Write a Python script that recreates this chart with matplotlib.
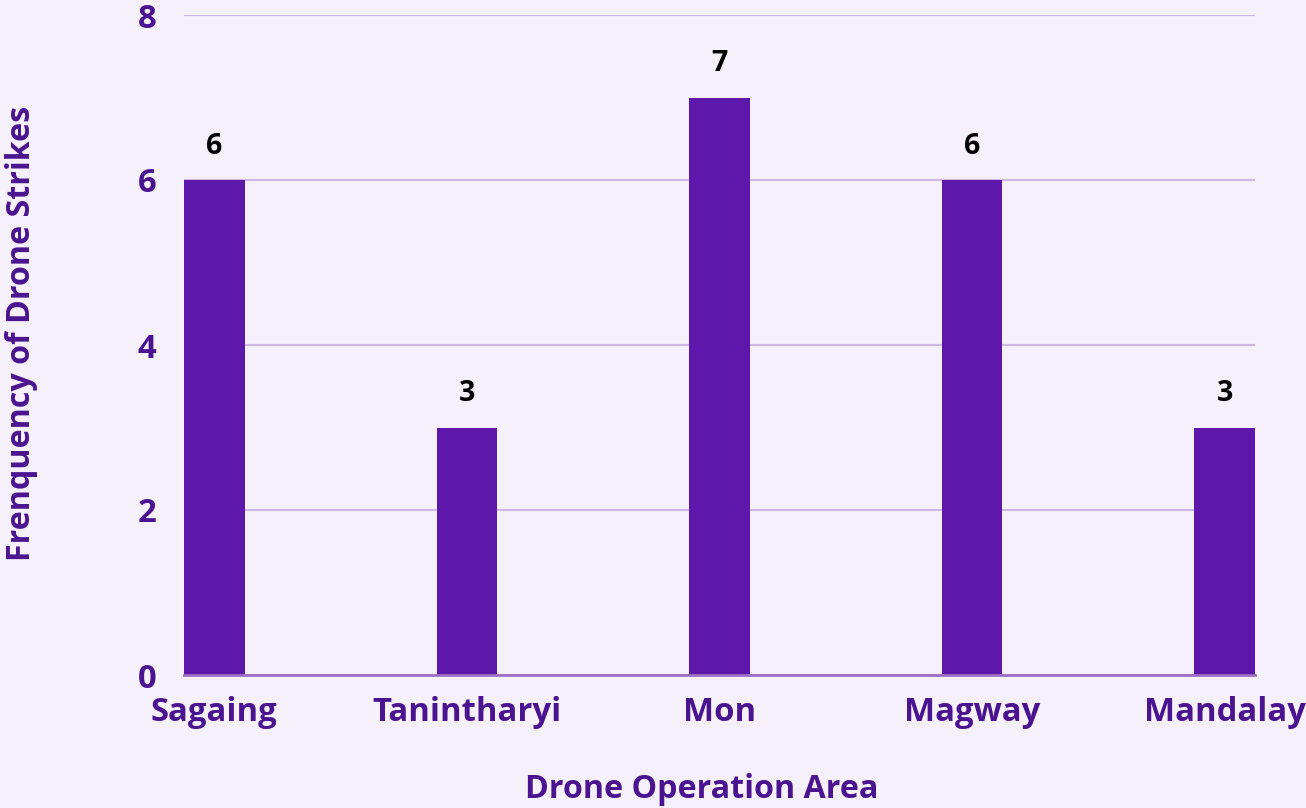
import matplotlib.pyplot as plt

areas = ["Sagaing", "Tanintharyi", "Mon", "Magway", "Mandalay"]
strikes = [6, 3, 7, 6, 3]
y_ticks = [0, 2, 4, 6, 8]

purple_text = "#4A1490"
bar_color = "#5E17AB"
bg = "#F6F0FA"

plt.rcParams["font.family"] = ["Open Sans", "DejaVu Sans"]
plt.rcParams["font.weight"] = "bold"

fig = plt.figure(figsize=(13.06, 8.08), dpi=100, facecolor=bg)
ax = fig.add_axes([184 / 1306, 133 / 808, (1255 - 184) / 1306, (675 - 15) / 808])
ax.set_facecolor(bg)

x = list(range(len(areas)))
bars = ax.bar(x, strikes, width=0.24, color=bar_color, zorder=3)
ax.set_xlim(-0.12, len(areas) - 1 + 0.12)
ax.set_ylim(0, 8)

# value labels above the bars
for xi, v in zip(x, strikes):
    ax.annotate(str(v), (xi, v), xytext=(0, 14), textcoords="offset points",
                ha="center", va="bottom", fontsize=20.5, fontweight="bold", color="black")

ax.set_yticks(y_ticks)
ax.set_xticks(x)
ax.set_xticklabels(areas)
ax.tick_params(axis="both", length=0, labelsize=23.7, labelcolor=purple_text)
ax.tick_params(axis="y", pad=20)
ax.tick_params(axis="x", pad=15)
for lbl in ax.get_xticklabels() + ax.get_yticklabels():
    lbl.set_fontweight("bold")

ax.yaxis.grid(True, color="#CDB8E6", linewidth=1.5, zorder=0)
for side in ["top", "right", "left"]:
    ax.spines[side].set_visible(False)
ax.spines["bottom"].set_color("#9B6FC4")
ax.spines["bottom"].set_linewidth(2)
ax.spines["bottom"].set_zorder(4)

ax.set_xlabel("Drone Operation Area", fontsize=23.2, fontweight="bold", color=purple_text)
ax.xaxis.set_label_coords((702 - 184) / (1255 - 184), -(790 - 675) / (675 - 15))
ax.set_ylabel("Frenquency of Drone Strikes", fontsize=23.2, fontweight="bold", color=purple_text)
ax.yaxis.set_label_coords(-(184 - 22) / (1255 - 184), (675 - 333) / (675 - 15))
ax.xaxis.label.set_va("center")
ax.yaxis.label.set_va("center")

fig.savefig("out.png", dpi=100, facecolor=bg)
